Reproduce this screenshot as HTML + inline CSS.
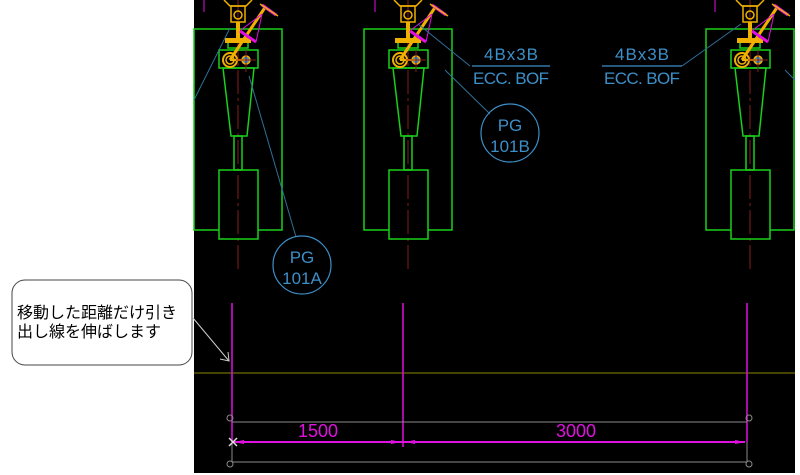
<!DOCTYPE html>
<html><head><meta charset="utf-8"><style>
html,body{margin:0;padding:0;background:#fff;width:800px;height:475px;overflow:hidden}
svg{display:block}
.jp{font-family:"Liberation Sans","Noto Sans CJK JP",sans-serif;font-size:16px;fill:#000}
.lb{font-family:"Liberation Sans","DejaVu Sans",sans-serif;fill:#3d8fc8;font-size:17px}
.dm{font-family:"Liberation Sans","DejaVu Sans",sans-serif;fill:#e010e0;font-size:18px}
</style></head><body>
<svg width="800" height="475" viewBox="0 0 800 475" xmlns="http://www.w3.org/2000/svg">
<defs>
<g id="fx">
  <line x1="0" y1="0" x2="0" y2="270" stroke="#8a1c1c" stroke-width="1" stroke-dasharray="24,4,3,4"/>
  <polyline points="-19,230 -44,230 -44,29 44,29 44,230 20,230" fill="none" stroke="#19d119" stroke-width="1.5"/>
  <rect x="-19" y="50" width="39" height="18" fill="none" stroke="#19d119" stroke-width="1.5"/>
  <polygon points="-15,68 16,68 9,136 -7,136" fill="none" stroke="#19d119" stroke-width="1.5"/>
  <rect x="-4" y="136" width="8" height="34" fill="none" stroke="#19d119" stroke-width="1.5"/>
  <rect x="-19" y="170" width="39" height="69" fill="none" stroke="#19d119" stroke-width="1.5"/>
  <rect x="-10" y="42" width="20" height="6" fill="none" stroke="#19d119" stroke-width="1.5"/>
  <polyline points="-14,0 -8,6 8,6 14,0" fill="none" stroke="#f0b000" stroke-width="1.5"/>
  <rect x="-7" y="6" width="14" height="16" fill="none" stroke="#f0b000" stroke-width="1.5"/>
  <circle cx="0" cy="15" r="4" fill="none" stroke="#f0b000" stroke-width="1.5"/>
  <rect x="-2" y="22" width="4" height="17" fill="#f0b000"/>
  <rect x="-13" y="38" width="26" height="5" fill="#f0b000"/>
  <line x1="-8" y1="60" x2="28" y2="6" stroke="#f0b000" stroke-width="3"/>
  <circle cx="-8" cy="60" r="7" fill="none" stroke="#f0b000" stroke-width="2"/>
  <circle cx="-8" cy="60" r="4" fill="none" stroke="#f0b000" stroke-width="1.5"/>
  <circle cx="8" cy="60" r="4" fill="#3d8fc8" stroke="#f0b000" stroke-width="1.5"/>
  <line x1="-8" y1="60" x2="8" y2="60" stroke="#f0b000" stroke-width="2"/>
  <line x1="-2" y1="60" x2="18" y2="60" stroke="#8a1c1c" stroke-width="1"/>
  <line x1="8" y1="50" x2="8" y2="72" stroke="#8a1c1c" stroke-width="1"/>
  <line x1="2" y1="31" x2="18" y2="42" stroke="#e010e0" stroke-width="3"/>
  <line x1="3" y1="30" x2="24" y2="14" stroke="#e010e0" stroke-width="1"/>
  <line x1="18" y1="42" x2="24" y2="14" stroke="#e010e0" stroke-width="1"/>
  <line x1="24" y1="5" x2="38" y2="15" stroke="#e010e0" stroke-width="3"/>
  <line x1="22" y1="4" x2="40" y2="16" stroke="#f0b000" stroke-width="1.5"/>
</g>
</defs>
<rect x="194" y="0" width="601" height="473" fill="#000"/>
<use href="#fx" x="238"/>
<use href="#fx" x="408"/>
<use href="#fx" x="750"/>
<line x1="204" y1="0" x2="204" y2="12" stroke="#e010e0" stroke-width="1"/>
<line x1="375" y1="0" x2="375" y2="12" stroke="#e010e0" stroke-width="1"/>
<line x1="715" y1="0" x2="715" y2="12" stroke="#e010e0" stroke-width="1"/>
<g stroke="#2f6f9a" stroke-width="1" fill="none">
  <line x1="230" y1="28" x2="194" y2="100"/>
  <line x1="249" y1="76" x2="296" y2="237"/>
  <line x1="418" y1="24" x2="470" y2="66"/>
  <line x1="445" y1="70" x2="490" y2="114"/>
  <line x1="741" y1="24" x2="682" y2="66"/>
  <line x1="785" y1="70" x2="795" y2="80"/>
</g>
<g stroke="#3d8fc8" stroke-width="1.2" fill="none">
  <line x1="472" y1="66" x2="550" y2="66"/>
  <line x1="602" y1="66" x2="682" y2="66"/>
  <circle cx="510" cy="133" r="29"/>
  <circle cx="302" cy="265" r="29"/>
</g>
<text class="lb" x="511" y="60" text-anchor="middle" textLength="54">4Bx3B</text>
<text class="lb" x="511" y="84" text-anchor="middle" textLength="76">ECC. BOF</text>
<text class="lb" x="642" y="60" text-anchor="middle" textLength="54">4Bx3B</text>
<text class="lb" x="642" y="84" text-anchor="middle" textLength="76">ECC. BOF</text>
<text class="lb" x="510" y="131" text-anchor="middle">PG</text>
<text class="lb" x="510" y="152" text-anchor="middle">101B</text>
<text class="lb" x="302" y="263" text-anchor="middle">PG</text>
<text class="lb" x="302" y="284" text-anchor="middle">101A</text>
<line x1="194" y1="373" x2="795" y2="373" stroke="#8a8a00" stroke-width="1"/>
<g stroke="#e010e0" stroke-width="1.5">
  <line x1="232" y1="303" x2="232" y2="442"/>
  <line x1="403" y1="303" x2="403" y2="447"/>
  <line x1="747" y1="303" x2="747" y2="442"/>
  <line x1="234" y1="442" x2="745" y2="442" stroke-width="2"/>
</g>
<g fill="#e010e0">
  <polygon points="234,442 244,440 244,444"/>
  <polygon points="401,442 391,440 391,444"/>
  <polygon points="405,442 415,440 415,444"/>
  <polygon points="745,442 735,440 735,444"/>
</g>
<text class="dm" x="318" y="437" text-anchor="middle">1500</text>
<text class="dm" x="576" y="437" text-anchor="middle">3000</text>
<g stroke="#8a8a8a" stroke-width="1" fill="none">
  <line x1="232" y1="422" x2="747" y2="422"/>
  <line x1="232" y1="462" x2="747" y2="462"/>
  <line x1="232" y1="442" x2="232" y2="462"/>
  <line x1="747" y1="442" x2="747" y2="462"/>
  <circle cx="230" cy="418" r="3"/>
  <circle cx="749" cy="418" r="3"/>
  <circle cx="230" cy="464" r="3"/>
  <circle cx="749" cy="464" r="3"/>
</g>
<g stroke="#ddd" stroke-width="1.5"><line x1="229" y1="438" x2="237" y2="446"/><line x1="237" y1="438" x2="229" y2="446"/></g>
<rect x="12" y="280" width="180" height="85" rx="13" fill="#fff" stroke="#444" stroke-width="1"/>
<text class="jp" x="17" y="318">移動した距離だけ引き</text>
<text class="jp" x="17" y="337">出し線を伸ばします</text>
<line x1="193" y1="318" x2="229" y2="361" stroke="#ccc" stroke-width="1"/>
<polyline points="220,359 229,361 228,352" fill="none" stroke="#ccc" stroke-width="1"/>
</svg>
</body></html>
